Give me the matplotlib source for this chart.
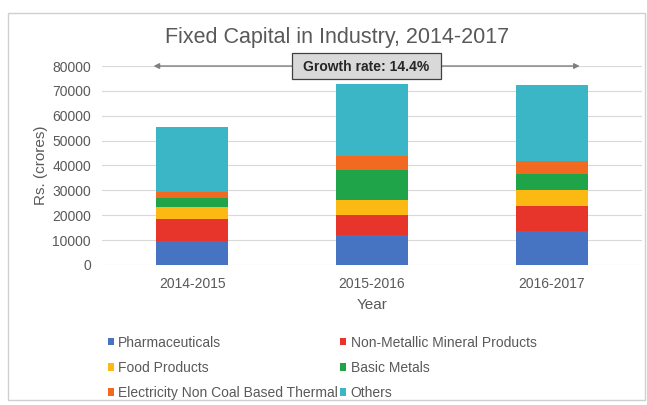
import matplotlib.pyplot as plt
import numpy as np
from matplotlib.patches import Rectangle

plt.rcParams['font.family'] = ['Liberation Sans', 'DejaVu Sans']

years = ['2014-2015', '2015-2016', '2016-2017']
pharma = [9800, 12000, 13700]
non_metallic = [8500, 8100, 10000]
food = [5100, 6000, 6400]
basic_metals = [3400, 12100, 6300]
electricity = [2400, 5600, 5400]
others = [26100, 28800, 30500]

series = [
    ('Pharmaceuticals', pharma, '#4674c3'),
    ('Non-Metallic Mineral Products', non_metallic, '#e8352b'),
    ('Food Products', food, '#fdb913'),
    ('Basic Metals', basic_metals, '#1fa44a'),
    ('Electricity Non Coal Based Thermal', electricity, '#f26a22'),
    ('Others', others, '#3ab6c6'),
]

grey = '#595959'

fig = plt.figure(figsize=(6.47, 4.05), dpi=100)
fig.patches.append(Rectangle((8 / 647, 5 / 405), 637 / 647, 387 / 405,
                             transform=fig.transFigure, fill=False,
                             ec='#d0d0d0', lw=1))
ax = fig.add_axes([0.158, 0.346, 0.834, 0.491])

x = np.arange(len(years))
bottom = np.zeros(len(years))
handles = []
for name, vals, col in series:
    b = ax.bar(x, vals, 0.4, bottom=bottom, color=col, label=name, zorder=2)
    handles.append(b)
    bottom += np.array(vals)

ax.set_xlim(-0.5, 2.5)
ax.set_ylim(0, 80000)
ax.set_yticks(np.arange(0, 80001, 10000))
ax.set_xticks(x)
ax.set_xticklabels(years)
ax.grid(True, axis='y', color='#d9d9d9', lw=0.8, zorder=0)
for s in ax.spines.values():
    s.set_visible(False)
ax.tick_params(length=0, labelsize=10, colors=grey, pad=9)
ax.tick_params(axis='y', pad=8)
ax.set_xlabel('Year', fontsize=11, color=grey, labelpad=5)
ax.set_ylabel('Rs. (crores)', fontsize=11, color=grey, labelpad=3)
fig.text(337 / 647, 1 - 38 / 405, 'Fixed Capital in Industry, 2014-2017',
         ha='center', va='center', fontsize=15.5, color=grey)

# growth arrow with label box
ax.annotate('', xy=(2.17, 80000), xytext=(-0.23, 80000),
            arrowprops=dict(arrowstyle='<|-|>', color='#7f7f7f', lw=1,
                            mutation_scale=8), annotation_clip=False, zorder=3)
ax.add_patch(Rectangle((0.553, 74700), 0.828, 10400, fc='#d9d9d9', ec='#404040',
                       lw=0.9, clip_on=False, zorder=4))
ax.text(0.967, 79800, 'Growth rate: 14.4%', ha='center', va='center',
        fontsize=10, fontweight='bold', color='#262626', zorder=5)

# row-major legend order
order = [0, 2, 4, 1, 3, 5]
fig.legend([handles[i] for i in order], [series[i][0] for i in order],
           loc='upper left', bbox_to_anchor=(0.158, 0.185), ncol=2, frameon=False,
           fontsize=10, handlelength=0.45, handleheight=0.45, handletextpad=0.3,
           columnspacing=0.15, labelspacing=0.8, labelcolor=grey,
           borderaxespad=0)

plt.savefig('out.png', dpi=100)
